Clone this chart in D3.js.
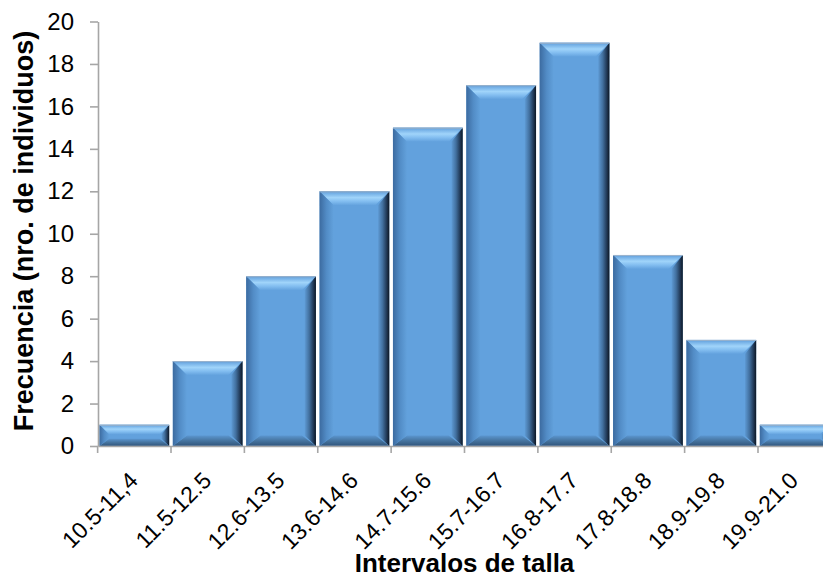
<!DOCTYPE html>
<html>
<head>
<meta charset="utf-8">
<script src="https://cdn.jsdelivr.net/npm/d3@7"></script>
<style>
  html, body { margin: 0; padding: 0; background: #fff; }
  svg { display: block; font-family: "Liberation Sans", Arial, sans-serif; }
</style>
</head>
<body>
<div id="vis"></div>
<script>
// Histograma de tallas
const categories = ["10.5-11,4", "11.5-12.5", "12.6-13.5", "13.6-14.6", "14.7-15.6",
                    "15.7-16.7", "16.8-17.7", "17.8-18.8", "18.9-19.8", "19.9-21.0"];
const frecuencias = [1, 4, 8, 12, 15, 17, 19, 9, 5, 1];
const yTicks = [0, 2, 4, 6, 8, 10, 12, 14, 16, 18, 20];

const width = 823;
const height = 579;
const margin = { top: 21.5, right: -8, bottom: 133, left: 98 };

const svg = d3.select("#vis")
  .append("svg")
  .attr("width", width)
  .attr("height", height);

const xScale = d3.scaleBand()
  .domain(categories)
  .range([margin.left, width - margin.right])
  .paddingInner(0.05)
  .paddingOuter(0.02);

const yScale = d3.scaleLinear()
  .domain([0, 20])
  .range([height - margin.bottom, margin.top]);

// Gradients for the bevel
const defs = svg.append("defs");
const grads = {
  top:    { x2: 0, y2: 1, stops: [[0, "#5a8fc6"], [0.12, "#70ace4"], [0.45, "#a0d4fa"], [0.72, "#82bdf0"], [1, "#63a2de"]] },
  right:  { x2: 1, y2: 0, stops: [[0, "#5e9ad4"], [0.4, "#42709f"], [0.8, "#1e3450"], [1, "#0d1723"]] },
  bottom: { x2: 0, y2: 1, stops: [[0, "#5b96d0"], [0.5, "#46749f"], [0.9, "#355b82"], [1, "#5a7ea4"]] },
  left:   { x2: 1, y2: 0, stops: [[0, "#3c6ba0"], [0.5, "#528cc6"], [1, "#62a1dc"]] }
};
Object.entries(grads).forEach(([k, g]) => {
  const lg = defs.append("linearGradient")
    .attr("id", "bev-" + k)
    .attr("x1", 0).attr("y1", 0)
    .attr("x2", g.x2).attr("y2", g.y2);
  g.stops.forEach(s => lg.append("stop").attr("offset", s[0]).attr("stop-color", s[1]));
});

// Bars
const bars = svg.append("g").attr("class", "bars");
categories.forEach((c, i) => {
  const x0 = xScale(c);
  const x1 = x0 + xScale.bandwidth();
  const y0 = yScale(frecuencias[i]);
  const y1 = yScale(0);
  const b = Math.min(14, (y1 - y0) / 2.2);
  const g = bars.append("g");

  g.append("rect")
    .attr("x", x0).attr("y", y0)
    .attr("width", x1 - x0).attr("height", y1 - y0)
    .attr("fill", "#62a1dd");

  const poly = (pts, fill) => g.append("polygon")
    .attr("points", pts.map(p => p.join(",")).join(" "))
    .attr("fill", fill);

  poly([[x0, y0], [x1, y0], [x1 - b, y0 + b], [x0 + b, y0 + b]], "url(#bev-top)");
  poly([[x0, y1], [x0 + b, y1 - b * 0.75], [x1 - b, y1 - b * 0.75], [x1, y1]], "url(#bev-bottom)");
  poly([[x0, y0], [x0 + b, y0 + b], [x0 + b, y1 - b * 0.75], [x0, y1]], "url(#bev-left)");
  poly([[x1 - b * 0.8, y0 + b], [x1, y0], [x1, y1], [x1 - b * 0.8, y1 - b * 0.75]], "url(#bev-right)");

  g.append("line")
    .attr("x1", x0).attr("x2", x1)
    .attr("y1", y0 + 0.5).attr("y2", y0 + 0.5)
    .attr("stroke", "#9db4cc").attr("stroke-width", 1);
});

// Axes
const axisColor = "#a6a6a6";

const yAxis = svg.append("g")
  .attr("transform", `translate(${margin.left},0)`)
  .call(d3.axisLeft(yScale).tickValues(yTicks).tickSize(8).tickPadding(16).tickSizeOuter(0));
yAxis.select(".domain").attr("stroke", axisColor).attr("stroke-width", 1.6);
yAxis.selectAll(".tick line").attr("stroke", axisColor).attr("stroke-width", 1.6);
yAxis.selectAll(".tick text")
  .attr("fill", "#000")
  .style("font-size", "24px")
  .style("font-family", "Liberation Sans, Arial, sans-serif");

const xAxis = svg.append("g")
  .attr("transform", `translate(0,${yScale(0)})`)
  .call(d3.axisBottom(xScale).tickSize(0).tickFormat(""));
xAxis.select(".domain").attr("stroke", axisColor).attr("stroke-width", 1.6);

// x tick marks at band boundaries
svg.append("g")
  .selectAll("line")
  .data(categories)
  .enter()
  .append("line")
  .attr("x1", d => xScale(d) - xScale.step() * xScale.paddingInner() / 2)
  .attr("x2", d => xScale(d) - xScale.step() * xScale.paddingInner() / 2)
  .attr("y1", yScale(0))
  .attr("y2", yScale(0) + 7)
  .attr("stroke", axisColor)
  .attr("stroke-width", 1.6);

// x labels, rotated
svg.append("g")
  .selectAll("text")
  .data(categories)
  .enter()
  .append("text")
  .attr("transform", d => `translate(${xScale(d) + xScale.bandwidth() / 2 + 5},${yScale(0) + 36}) rotate(-45)`)
  .attr("text-anchor", "end")
  .style("font-size", "23px")
  .attr("fill", "#000")
  .text(d => d);

// Titles
svg.append("text")
  .attr("x", (margin.left + width - margin.right) / 2)
  .attr("y", 572)
  .attr("text-anchor", "middle")
  .style("font-size", "26px")
  .attr("font-weight", "bold")
  .attr("fill", "#000")
  .text("Intervalos de talla");

svg.append("text")
  .attr("transform", "translate(33,231) rotate(-90)")
  .attr("text-anchor", "middle")
  .style("font-size", "27px")
  .attr("font-weight", "bold")
  .attr("fill", "#000")
  .text("Frecuencia (nro. de individuos)");
</script>
</body>
</html>
